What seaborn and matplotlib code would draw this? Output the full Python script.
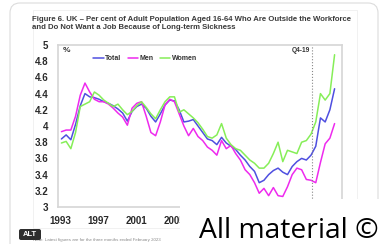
import numpy as np
import pandas as pd
import matplotlib
matplotlib.use('Agg')
import matplotlib.pyplot as plt
import seaborn as sns
from matplotlib.patches import FancyBboxPatch, Rectangle

# values, roughly every half year from mid-1993 to spring 2022
total = [3.84, 3.89, 3.83, 4.02, 4.25, 4.40, 4.36, 4.35, 4.33, 4.30,
         4.28, 4.25, 4.21, 4.16, 4.06, 4.18, 4.24, 4.27, 4.22, 4.12,
         4.05, 4.15, 4.26, 4.32, 4.31, 4.20, 4.05, 4.06, 4.08, 4.00,
         3.92, 3.84, 3.82, 3.77, 3.86, 3.79, 3.75, 3.71, 3.64, 3.58,
         3.50, 3.44, 3.30, 3.33, 3.40, 3.45, 3.48, 3.43, 3.40, 3.50,
         3.56, 3.60, 3.58, 3.64, 3.75, 4.10, 4.05, 4.20, 4.46]
men = [3.93, 3.95, 3.95, 4.12, 4.38, 4.53, 4.42, 4.33, 4.30, 4.30,
       4.27, 4.22, 4.16, 4.11, 4.01, 4.22, 4.28, 4.30, 4.12, 3.92,
       3.88, 4.05, 4.26, 4.33, 4.30, 4.15, 4.00, 3.88, 3.97, 3.87,
       3.82, 3.74, 3.70, 3.64, 3.82, 3.72, 3.76, 3.66, 3.58, 3.46,
       3.40, 3.30, 3.17, 3.23, 3.14, 3.24, 3.14, 3.13, 3.25, 3.40,
       3.48, 3.46, 3.34, 3.33, 3.30, 3.55, 3.78, 3.85, 4.03]
women = [3.79, 3.81, 3.72, 3.92, 4.24, 4.27, 4.30, 4.42, 4.38, 4.32,
         4.28, 4.24, 4.27, 4.20, 4.14, 4.18, 4.25, 4.30, 4.23, 4.15,
         4.09, 4.20, 4.30, 4.36, 4.36, 4.17, 4.20, 4.15, 4.10, 4.04,
         3.96, 3.87, 3.85, 3.89, 4.03, 3.85, 3.77, 3.72, 3.70, 3.64,
         3.58, 3.54, 3.48, 3.48, 3.54, 3.66, 3.80, 3.56, 3.70, 3.68,
         3.66, 3.80, 3.82, 3.90, 4.05, 4.40, 4.32, 4.40, 4.88]
series_names = ['Total', 'Men', 'Women']
colors = {'Total': '#4f4fe0', 'Men': '#ee2aee', 'Women': '#86ee58'}
tick_years = [1993, 1997, 2001, 2005]
y_ticks = [3, 3.2, 3.4, 3.6, 3.8, 4, 4.2, 4.4, 4.6, 4.8, 5]

years = np.linspace(1993.65, 2022.4, len(total))
df = pd.DataFrame({'year': np.tile(years, 3),
                   'value': total + men + women,
                   'series': np.repeat(series_names, len(total))})

sns.set_style('white')
plt.rcParams['font.family'] = ['Liberation Sans', 'DejaVu Sans']

W, H = 385, 244
fig = plt.figure(figsize=(W / 100, H / 100), dpi=100)
ax = fig.add_axes([58 / W, 1 - 207 / H, 284 / W, 162 / H])

sns.lineplot(data=df, x='year', y='value', hue='series', palette=colors,
             linewidth=1.1, ax=ax)

ax.set_xlim(1993.29, 2023.18)
ax.set_ylim(3, 5)
ax.set_xticks([y + 0.5 for y in tick_years])
ax.set_xticklabels([str(y) for y in tick_years])
ax.set_yticks(y_ticks)
ax.set_yticklabels(['{:g}'.format(v) for v in y_ticks])
ax.tick_params(length=0, labelsize=7, colors='#2a2a2a')
ax.tick_params(axis='y', pad=7)
ax.tick_params(axis='x', pad=6.5)
for lab in ax.get_xticklabels() + ax.get_yticklabels():
    lab.set_fontweight('bold')
ax.set_xlabel('')
ax.set_ylabel('')
for s in ax.spines.values():
    s.set_color('#d6d6d6')
    s.set_linewidth(1.2)

ax.axvline(2020.0, color='#888888', ls=':', lw=0.8)
ax.text(2019.85, 4.935, 'Q4-19', ha='right', va='center', fontsize=4.8,
        fontweight='bold', color='#333333')
ax.text(1993.8, 4.93, '%', ha='left', va='center', fontsize=6,
        fontweight='bold', color='#333333')

handles, labels = ax.get_legend_handles_labels()
leg = ax.legend(handles, labels, loc='center left', bbox_to_anchor=(0.112, 0.914),
                ncol=3, frameon=False, fontsize=5, handlelength=1.5,
                handletextpad=0.2, columnspacing=0.9, borderpad=0)
for t in leg.get_texts():
    t.set_fontweight('bold')
    t.set_color('#333333')

# page decorations around the chart
ov = fig.add_axes([0, 0, 1, 1], zorder=10)
ov.set_xlim(0, W)
ov.set_ylim(H, 0)
ov.axis('off')
ov.patch.set_alpha(0)

ov.add_patch(FancyBboxPatch((10, 3), 368, 270, boxstyle='round,pad=0,rounding_size=10',
                            fc='none', ec='#dcdcdc', lw=0.8))
ov.add_patch(Rectangle((33, 10), 324, 218, fc='none', ec='#efefef', lw=0.6))

ov.text(32, 19.5, 'Figure 6. UK \u2013 Per cent of Adult Population Aged 16-64 Who Are Outside the Workforce',
        fontsize=5.6, fontweight='bold', color='#3a3a3a', va='center')
ov.text(32, 27.5, 'and Do Not Want a Job Because of Long-term Sickness',
        fontsize=5.6, fontweight='bold', color='#3a3a3a', va='center')

ov.text(33, 240.5, 'Note: Latest figures are for the three months ended February 2023',
        fontsize=3.2, color='#8a8a8a', va='center', zorder=2)
ov.add_patch(FancyBboxPatch((19, 229), 22, 11, boxstyle='round,pad=0,rounding_size=2',
                            fc='#2e2e2e', ec='none', zorder=3))
ov.text(30, 234.7, 'ALT', ha='center', va='center', fontsize=5.5,
        fontweight='bold', color='white', zorder=4)

ov.add_patch(Rectangle((180, 199), 205, 45, fc='white', ec='none', zorder=5))
ov.text(199, 238, 'All material \u00a9', fontsize=20.3, family=['Open Sans', 'DejaVu Sans'],
        color='black', va='baseline', zorder=6)

fig.savefig('out.png', dpi=100)
